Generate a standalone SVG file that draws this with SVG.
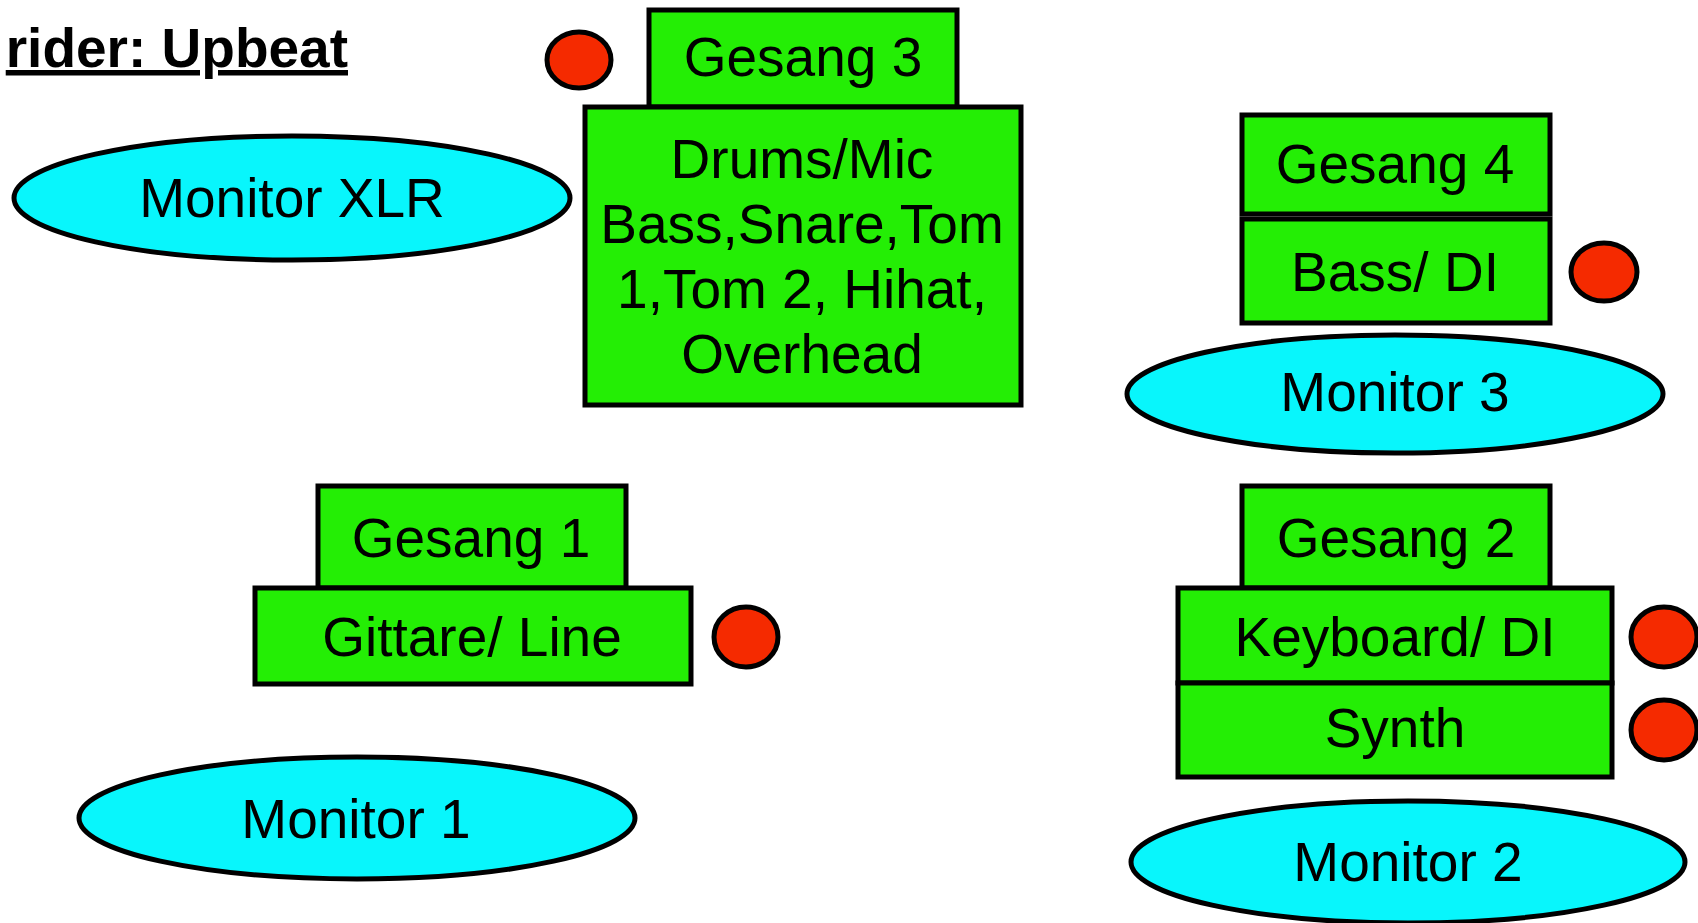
<svg xmlns="http://www.w3.org/2000/svg" width="1698" height="923" viewBox="0 0 1698 923">
<style>
.box{fill:#24ee05;stroke:#000;stroke-width:5}
.mon{fill:#08f6fc;stroke:#000;stroke-width:5}
.dot{fill:#f52a00;stroke:#000;stroke-width:5}
text{font-family:"Liberation Sans",Arial,sans-serif;font-size:55px;fill:#000;text-anchor:middle}
.title{font-weight:bold;font-size:55px;text-anchor:end;text-decoration:underline}
</style>
<rect width="1698" height="923" fill="#fff"/>
<g id="title"><text class="title" x="348" y="67">rider: Upbeat</text></g>
<g id="connectors"/>
<g id="monitor-xlr"><ellipse class="mon" cx="292" cy="198" rx="278" ry="62"/><text x="292" y="217">Monitor XLR</text></g>
<g id="gesang3"><rect class="box" x="649" y="10" width="308" height="97"/><text x="803" y="76">Gesang 3</text></g>
<g id="dot-gesang3"><ellipse class="dot" cx="579" cy="60" rx="32" ry="28"/></g>
<g id="drums"><rect class="box" x="585" y="107" width="436" height="298"/>
<text x="802" y="178">Drums/Mic</text><text x="802" y="243">Bass,Snare,Tom</text><text x="802" y="308">1,Tom 2, Hihat,</text><text x="802" y="373">Overhead</text></g>
<g id="gesang4"><rect class="box" x="1242" y="115" width="308" height="99"/><text x="1395" y="183">Gesang 4</text></g>
<g id="bass"><rect class="box" x="1242" y="219" width="308" height="104"/><text x="1395" y="291">Bass/ DI</text></g>
<g id="dot-bass"><ellipse class="dot" cx="1604" cy="272" rx="33" ry="29"/></g>
<g id="monitor3"><ellipse class="mon" cx="1395" cy="394" rx="268" ry="59"/><text x="1395" y="411">Monitor 3</text></g>
<g id="gesang1"><rect class="box" x="318" y="486" width="308" height="102"/><text x="471" y="557">Gesang 1</text></g>
<g id="gittare"><rect class="box" x="255" y="588" width="436" height="96"/><text x="472" y="656">Gittare/ Line</text></g>
<g id="dot-gittare"><ellipse class="dot" cx="746" cy="637" rx="32" ry="30"/></g>
<g id="monitor1"><ellipse class="mon" cx="357" cy="818" rx="278" ry="61"/><text x="356" y="838">Monitor 1</text></g>
<g id="gesang2"><rect class="box" x="1242" y="486" width="308" height="102"/><text x="1396" y="557">Gesang 2</text></g>
<g id="keyboard"><rect class="box" x="1178" y="588" width="434" height="95"/><text x="1395" y="656">Keyboard/ DI</text></g>
<g id="synth"><rect class="box" x="1178" y="683" width="434" height="94"/><text x="1395" y="747">Synth</text></g>
<g id="dot-keyboard"><ellipse class="dot" cx="1664" cy="637" rx="33" ry="30"/></g>
<g id="dot-synth"><ellipse class="dot" cx="1664" cy="730" rx="33" ry="30"/></g>
<g id="monitor2"><ellipse class="mon" cx="1408" cy="862" rx="277" ry="61"/><text x="1408" y="881">Monitor 2</text></g>
</svg>
